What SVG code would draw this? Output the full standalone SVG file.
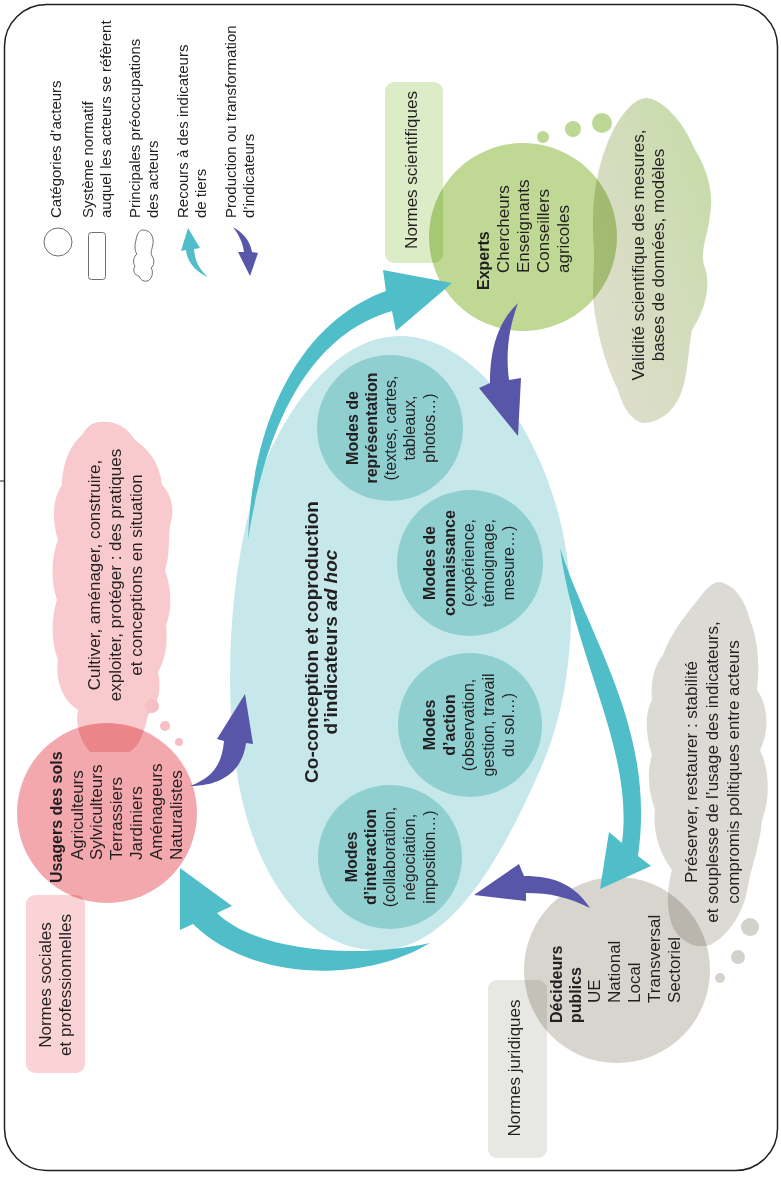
<svg xmlns="http://www.w3.org/2000/svg" width="781" height="1178" viewBox="0 0 781 1178">
<defs>
<style>
text{font-family:"Liberation Sans",Arial,Helvetica,sans-serif;fill:#231f20}
.lg{font-size:15px}
.t17{font-size:17px}
.b16{font-size:16px;font-weight:bold}
.m16{font-size:16px}
.b19{font-size:19px;font-weight:bold}
.mid{text-anchor:middle}
.mul{mix-blend-mode:multiply}
.cyan{fill:#4fbec9}
.purple{fill:#5756a8}
.mode{fill:#8fcfd0}
.outline{fill:#fff;stroke:#6d6e71;stroke-width:1}
</style>
<linearGradient id="gGreen" x1="0" y1="1" x2="1" y2="0">
<stop offset="0" stop-color="#e0dfd0"/>
<stop offset="0.45" stop-color="#d6dcc0"/>
<stop offset="1" stop-color="#c3dca3"/>
</linearGradient>
</defs>

<rect x="0" y="0" width="781" height="1178" fill="#fff"/>
<rect x="4.5" y="4.5" width="773" height="1166" rx="42" fill="#fff" stroke="#231f20" stroke-width="1.5"/>
<line x1="0" y1="481" x2="4" y2="481" stroke="#231f20" stroke-width="1"/>

<g id="legend">
<circle class="outline" cx="58" cy="242" r="14"/>
<rect class="outline" x="88.5" y="232.5" width="17" height="47" rx="3"/>
<path class="outline" d="M143,230 C150,230 154,236 153,244 C152,250 150,252 152,256 C155,260 154,266 151,268 C154,272 152,280 147,281 C143,282 140,279 139,276 C135,276 132,270 135,266 C132,262 134,256 137,254 C134,250 135,244 136,240 C137,234 139,230 143,230 Z"/>
<path class="cyan" d="M188,228 L200,248 L194,249 C195,262 200,270 208,277 C196,272 187,262 186,250 L181,251 Z"/>
<path class="purple" d="M233,227 C243,233 250,240 252,252 L258,253 L250,276 L238,252 L244,252 C243,243 239,235 233,227 Z"/>
<text class="lg" transform="translate(0,218) rotate(-90)"><tspan x="0" y="61">Catégories d’acteurs</tspan><tspan x="0" y="93">Système normatif</tspan><tspan x="0" y="111">auquel les acteurs se réfèrent</tspan><tspan x="0" y="140">Principales préoccupations</tspan><tspan x="0" y="158">des acteurs</tspan><tspan x="0" y="188">Recours à des indicateurs</tspan><tspan x="0" y="206">de tiers</tspan><tspan x="0" y="236">Production ou transformation</tspan><tspan x="0" y="254">d’indicateurs</tspan></text>
</g>

<g id="cloud-usagers">
<path class="mul" fill="#f8cacd" d="M100,422 C115,420 128,428 135,440 C150,450 160,465 162,485 C172,495 175,510 170,525 C168,545 170,555 165,570 C172,590 172,610 166,625 C168,645 165,660 158,672 C162,690 158,705 148,715 C145,730 140,745 130,752 L90,752 C80,740 75,725 78,710 C62,700 55,680 58,660 C50,640 52,615 57,600 C50,580 52,555 58,540 C52,520 52,500 62,485 C62,465 70,445 82,435 C88,425 94,422 100,422 Z"/>
<circle fill="#f6bfc3" cx="152" cy="706" r="7"/>
<circle fill="#f6bfc3" cx="165" cy="726" r="5"/>
<circle fill="#f6bfc3" cx="179" cy="742" r="4"/>
<text class="t17 mid" transform="translate(0,575) rotate(-90)"><tspan x="0" y="100">Cultiver, aménager, construire,</tspan><tspan x="0" y="121">exploiter, protéger : des pratiques</tspan><tspan x="0" y="142">et conceptions en situation</tspan></text>
</g>

<g id="cloud-experts">
<path class="mul" fill="url(#gGreen)" d="M647,98 C665,100 685,125 695,150 C708,170 714,195 710,215 C708,235 700,250 704,265 C712,285 705,310 692,330 C688,350 688,375 682,390 C676,410 660,423 643,423 C630,420 622,405 618,390 C608,370 600,345 596,320 C590,290 595,270 594,250 C592,225 593,200 596,185 C600,160 610,130 625,112 C632,103 640,98 647,98 Z"/>
<circle fill="#bcd894" cx="602" cy="123" r="10"/>
<circle fill="#bcd894" cx="573" cy="129" r="8"/>
<circle fill="#bcd894" cx="543" cy="137" r="6"/>
<text class="t17 mid" transform="translate(0,255) rotate(-90)"><tspan x="0" y="644">Validité scientifique des mesures,</tspan><tspan x="0" y="664">bases de données, modèles</tspan></text>
</g>

<g id="cloud-decideurs">
<path class="mul" fill="#dcdad5" d="M720,582 C735,585 745,600 750,620 C758,640 760,665 757,690 C768,705 770,730 760,750 C770,770 770,800 762,820 C760,845 752,865 748,885 C745,910 730,935 710,945 C695,950 678,940 672,925 C665,905 668,885 672,870 C660,855 652,830 655,810 C648,790 647,770 652,755 C645,735 645,712 652,700 C650,680 655,665 663,655 C672,630 690,610 700,597 C707,588 713,582 720,582 Z"/>
<circle fill="#d3d1cc" cx="750" cy="927" r="9"/>
<circle fill="#d3d1cc" cx="738" cy="957" r="7"/>
<circle fill="#d3d1cc" cx="720" cy="978" r="5"/>
<text class="t17 mid" transform="translate(0,772) rotate(-90)"><tspan x="0" y="697">Préserver, restaurer : stabilité</tspan><tspan x="0" y="718">et souplesse de l’usage des indicateurs,</tspan><tspan x="0" y="739">compromis politiques entre acteurs</tspan></text>
</g>

<g id="norme-sociales">
<rect x="26" y="895" width="59" height="178" rx="9" fill="#f9d3d5"/>
<text class="t17 mid" transform="translate(0,985) rotate(-90)"><tspan x="0" y="51">Normes sociales</tspan><tspan x="0" y="71">et professionnelles</tspan></text>
</g>
<g id="norme-scientifiques">
<rect x="385" y="82" width="58" height="181" rx="9" fill="#dcecc6"/>
<text class="t17 mid" transform="translate(417,170) rotate(-90)">Normes scientifiques</text>
</g>
<g id="norme-juridiques">
<rect x="488" y="980" width="59" height="178" rx="9" fill="#e7e7e3"/>
<text class="t17 mid" transform="translate(520,1068) rotate(-90)">Normes juridiques</text>
</g>

<g id="node-usagers">
<circle class="mul" fill="#f2a8ac" cx="107" cy="813" r="90"/>
<text class="b16" transform="translate(62,883) rotate(-90)">Usagers des sols</text>
<text class="t17" transform="translate(0,860) rotate(-90)"><tspan x="0" y="83">Agriculteurs</tspan><tspan x="0" y="102">Sylviculteurs</tspan><tspan x="0" y="122">Terrassiers</tspan><tspan x="0" y="142">Jardiniers</tspan><tspan x="0" y="162">Aménageurs</tspan><tspan x="0" y="182">Naturalistes</tspan></text>
</g>

<g id="node-experts">
<circle class="mul" fill="#bfd893" cx="523" cy="237" r="94"/>
<text class="b16" transform="translate(489,290) rotate(-90)">Experts</text>
<text class="t17" transform="translate(0,273) rotate(-90)"><tspan x="0" y="509">Chercheurs</tspan><tspan x="0" y="529">Enseignants</tspan><tspan x="0" y="549">Conseillers</tspan><tspan x="0" y="569">agricoles</tspan></text>
</g>

<g id="node-decideurs">
<circle class="mul" fill="#d8d5cf" cx="617" cy="970" r="93"/>
<text class="b16" transform="translate(0,1023) rotate(-90)"><tspan x="0" y="562">Décideurs</tspan><tspan x="0" y="581">publics</tspan></text>
<text class="t17" transform="translate(0,1003) rotate(-90)"><tspan x="0" y="600">UE</tspan><tspan x="0" y="620">National</tspan><tspan x="0" y="640">Local</tspan><tspan x="0" y="660">Transversal</tspan><tspan x="0" y="680">Sectoriel</tspan></text>
</g>

<g id="node-coconception">
<path fill="#c6e8ea" d="M400,336 C470,336 535,420 560,520 C580,600 572,700 540,770 C505,850 455,945 385,950 C310,955 258,880 240,790 C222,700 228,560 262,470 C295,390 345,336 400,336 Z"/>
<text class="b19 mid" transform="translate(0,642) rotate(-90)"><tspan x="0" y="318">Co-conception et coproduction</tspan><tspan x="0" y="337">d’indicateurs <tspan font-style="italic">ad hoc</tspan></tspan></text>
</g>

<g id="mode-representation">
<circle class="mode" cx="390" cy="428" r="73"/>
<text class="m16 mid" transform="translate(0,428) rotate(-90)"><tspan x="0" y="358" font-weight="bold">Modes de</tspan><tspan x="0" y="377" font-weight="bold">représentation</tspan><tspan x="0" y="396">(textes, cartes,</tspan><tspan x="0" y="415">tableaux,</tspan><tspan x="0" y="435">photos…)</tspan></text>
</g>
<g id="mode-connaissance">
<circle class="mode" cx="470" cy="563" r="73"/>
<text class="m16 mid" transform="translate(0,563) rotate(-90)"><tspan x="0" y="435" font-weight="bold">Modes de</tspan><tspan x="0" y="455" font-weight="bold">connaissance</tspan><tspan x="0" y="474">(expérience,</tspan><tspan x="0" y="494">témoignage,</tspan><tspan x="0" y="514">mesure…)</tspan></text>
</g>
<g id="mode-action">
<circle class="mode" cx="470" cy="725" r="72"/>
<text class="m16 mid" transform="translate(0,725) rotate(-90)"><tspan x="0" y="435" font-weight="bold">Modes</tspan><tspan x="0" y="455" font-weight="bold">d’action</tspan><tspan x="0" y="474">(observation,</tspan><tspan x="0" y="494">gestion, travail</tspan><tspan x="0" y="514">du sol…)</tspan></text>
</g>
<g id="mode-interaction">
<circle class="mode" cx="390" cy="857" r="72"/>
<text class="m16 mid" transform="translate(0,857) rotate(-90)"><tspan x="0" y="357" font-weight="bold">Modes</tspan><tspan x="0" y="376" font-weight="bold">d’interaction</tspan><tspan x="0" y="395">(collaboration,</tspan><tspan x="0" y="415">négociation,</tspan><tspan x="0" y="435">imposition…)</tspan></text>
</g>

<g id="connectors">
<path class="cyan" d="M248,540 C252,420 300,322 386,291 L383,270 L452,283 L396,331 L392,311 C318,332 268,410 248,540 Z"/>
<path class="cyan" d="M430,943 C360,985 250,980 193,924 L180,930 L180,868 L232,906 L217,913 C255,950 350,960 430,943 Z"/>
<path class="cyan" d="M560,548 C590,640 656,730 638,856 L651,866 L600,889 L609,832 L622,843 C634,750 575,660 560,548 Z"/>
<path class="purple" d="M190,786 C212,778 222,765 224,741 L217,739 L245,694 L253,744 L246,743 C243,768 225,786 190,786 Z"/>
<path class="purple" d="M518,303 C500,320 490,345 490,383 L479,388 L518,436 L521,378 L509,380 C505,350 510,325 518,303 Z"/>
<path class="purple" d="M590,908 C575,885 555,876 524,876 L519,864 L474,895 L526,901 L526,893 C550,893 568,897 590,908 Z"/>
</g>
</svg>
